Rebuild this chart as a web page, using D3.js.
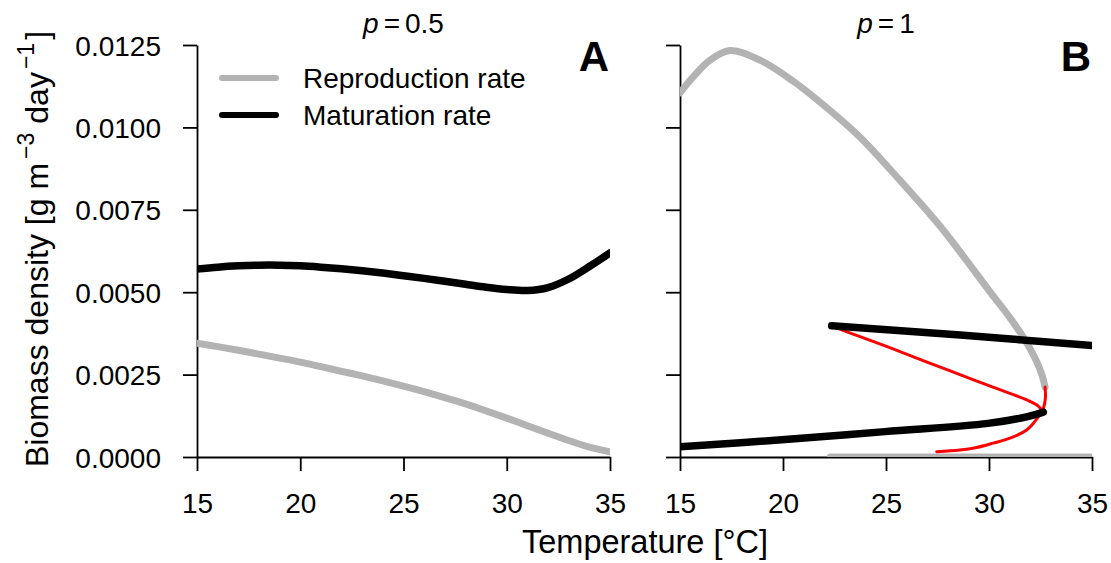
<!DOCTYPE html>
<html>
<head>
<meta charset="utf-8">
<script src="https://cdn.jsdelivr.net/npm/d3@7"></script>
<style>
  body { margin: 0; background: #fff; }
  svg { display: block; }
  text { font-family: "Liberation Sans", Arial, sans-serif; fill: #000; }
</style>
</head>
<body>
<svg id="chart" width="1111" height="563"></svg>
<script>
// ---- data: biomass rates (g m^-3 day^-1) against temperature (°C) ----

// Panel A, p = 0.5
const tempA = [15, 16, 17, 18, 19, 20, 21, 22, 23, 24, 25, 26, 27, 28, 29, 30, 31, 32, 33, 34, 35];
const reproA = [0.00345, 0.00335, 0.00324, 0.00312, 0.00300, 0.00288, 0.00274, 0.00260, 0.00246, 0.00231,
                0.00215, 0.00198, 0.00180, 0.00161, 0.00140, 0.00118, 0.00095, 0.00072, 0.00050, 0.00030, 0.00016];
const matA = [0.00570, 0.00576, 0.00580, 0.00582, 0.00582, 0.00580, 0.00576, 0.00571, 0.00565, 0.00558,
              0.00550, 0.00542, 0.00533, 0.00524, 0.00515, 0.00508, 0.00505, 0.00514, 0.00540, 0.00578, 0.00619];

// Panel B, p = 1: stable branches (grey / black) and unstable branches (red)
const tempReproHigh = [15, 15.65, 16.46, 17.43, 18.88, 20.5, 22.12, 23.74, 25.68, 27.62, 30.05, 31.02, 31.75, 32.28, 32.57, 32.72];
const reproHigh = [0.01105, 0.01154, 0.01204, 0.01233, 0.01204, 0.01140, 0.01060, 0.00970, 0.00839, 0.00701,
                   0.00501, 0.00422, 0.00355, 0.00294, 0.00249, 0.00212];
const tempReproLow = [22.3, 35];
const reproLow = [0, 0];
const tempReproUnstable = [32.72, 32.74, 32.64, 32.15, 31.83, 31.02, 30.2, 29.4, 28.59, 27.46];
const reproUnstable = [0.00212, 0.00180, 0.00148, 0.00102, 0.00082, 0.00057, 0.00042, 0.00029, 0.00021, 0.00016];

const tempMatHigh = [22.36, 28.6, 35];
const matHigh = [0.00398, 0.00370, 0.00338];
const tempMatLow = [15, 19.94, 24.95, 29.95, 31.83, 32.64];
const matLow = [0.00031, 0.00052, 0.00077, 0.00102, 0.00122, 0.00136];
const tempMatUnstable = [22.38, 23.74, 25.34, 26.99, 28.59, 30.19, 31.84, 32.38, 32.62];
const matUnstable = [0.00397, 0.00365, 0.00328, 0.00288, 0.00250, 0.00212, 0.00173, 0.00155, 0.00137];

// Axis ticks
const xTicks = [15, 20, 25, 30, 35];
const yTicks = [0, 0.0025, 0.005, 0.0075, 0.01, 0.0125];

// Legend entries
const legendLabels = ["Reproduction rate", "Maturation rate"];

// ---- layout ----
const GREY = "#b3b3b3", RED = "#ff0000", BLACK = "#000000";
const svg = d3.select("#chart");
const y = d3.scaleLinear().domain([0, 0.0125]).range([457, 45]);
const xA = d3.scaleLinear().domain([15, 35]).range([197, 610]);
const xB = d3.scaleLinear().domain([15, 35]).range([680, 1092]);

function panel(x, id, showYLabels, title, letter) {
  const g = svg.append("g");

  // clip region for curves
  g.append("clipPath").attr("id", id)
    .append("rect")
    .attr("x", x.range()[0]).attr("y", y.range()[1])
    .attr("width", x.range()[1] - x.range()[0])
    .attr("height", y.range()[0] - y.range()[1]);

  const xAxis = d3.axisBottom(x).tickValues(xTicks).tickFormat(d3.format("d"))
    .tickSize(14).tickSizeOuter(0).tickPadding(22);
  const yAxis = d3.axisLeft(y).tickValues(yTicks)
    .tickFormat(showYLabels ? d3.format(".4f") : () => "")
    .tickSize(14).tickSizeOuter(0).tickPadding(22);

  const gx = g.append("g").attr("transform", `translate(0,${y(0)})`).call(xAxis);
  const gy = g.append("g").attr("transform", `translate(${x(15)},0)`).call(yAxis);
  [gx, gy].forEach(a => {
    a.selectAll("path, line").attr("stroke", "#000").attr("stroke-width", 1.8);
    a.selectAll("text").attr("font-size", 28).attr("font-family", null).attr("fill", "#000");
  });
  gy.selectAll("text").attr("dy", "0.36em");
  gx.selectAll("text").attr("dy", "0.71em");

  // panel title with italic p
  const t = g.append("text").attr("x", (x(15) + x(35)) / 2).attr("y", 33)
    .attr("text-anchor", "middle").attr("font-size", 28);
  t.append("tspan").attr("font-style", "italic").text("p");
  t.append("tspan").attr("dx", 5).text("=");
  t.append("tspan").attr("dx", 5).text(title);

  g.append("text").attr("x", x(35) - 1).attr("y", 71).attr("text-anchor", "end")
    .attr("font-size", 42).attr("font-weight", "bold").text(letter);

  return g.append("g").attr("clip-path", `url(#${id})`);
}

function curve(g, x, temps, vals, color, width) {
  const line = d3.line().x((d, i) => x(temps[i])).y(d => y(d)).curve(d3.curveCatmullRom.alpha(0.5));
  g.append("path").attr("d", line(vals)).attr("fill", "none")
    .attr("stroke", color).attr("stroke-width", width)
    .attr("stroke-linecap", "round").attr("stroke-linejoin", "round");
}

// Panel A
const pA = panel(xA, "clipA", true, "0.5", "A");
curve(pA, xA, tempA, reproA, GREY, 7);
curve(pA, xA, tempA, matA, BLACK, 7.5);

// Panel B
const pB = panel(xB, "clipB", false, "1", "B");
curve(pB, xB, tempReproHigh, reproHigh, GREY, 7);
curve(pB, xB, tempReproLow, reproLow, GREY, 7);
curve(pB, xB, tempReproUnstable, reproUnstable, RED, 3);
curve(pB, xB, tempMatUnstable, matUnstable, RED, 3);
curve(pB, xB, tempMatHigh, matHigh, BLACK, 7.5);
curve(pB, xB, tempMatLow, matLow, BLACK, 7.5);

// Legend
const legend = svg.append("g");
[GREY, BLACK].forEach((c, i) => {
  const ly = 78 + i * 37;
  legend.append("line").attr("x1", 222).attr("x2", 276).attr("y1", ly).attr("y2", ly)
    .attr("stroke", c).attr("stroke-width", 6).attr("stroke-linecap", "round");
  legend.append("text").attr("x", 303).attr("y", ly + 10).attr("font-size", 28).text(legendLabels[i]);
});

// Axis titles
svg.append("text").attr("x", 645).attr("y", 553).attr("text-anchor", "middle")
  .attr("font-size", 32.5).text("Temperature [°C]");

const yl = svg.append("text").attr("transform", "translate(48,249) rotate(-90)")
  .attr("text-anchor", "middle").attr("font-size", 32);
yl.append("tspan").text("Biomass density [g m");
yl.append("tspan").attr("dx", 4).attr("dy", -14).attr("font-size", 23).text("\u22123");
yl.append("tspan").attr("dx", 9).attr("dy", 14).text("day");
yl.append("tspan").attr("dx", 3).attr("dy", -14).attr("font-size", 23).text("\u22121");
yl.append("tspan").attr("dx", 3).attr("dy", 14).text("]");
</script>
</body>
</html>
